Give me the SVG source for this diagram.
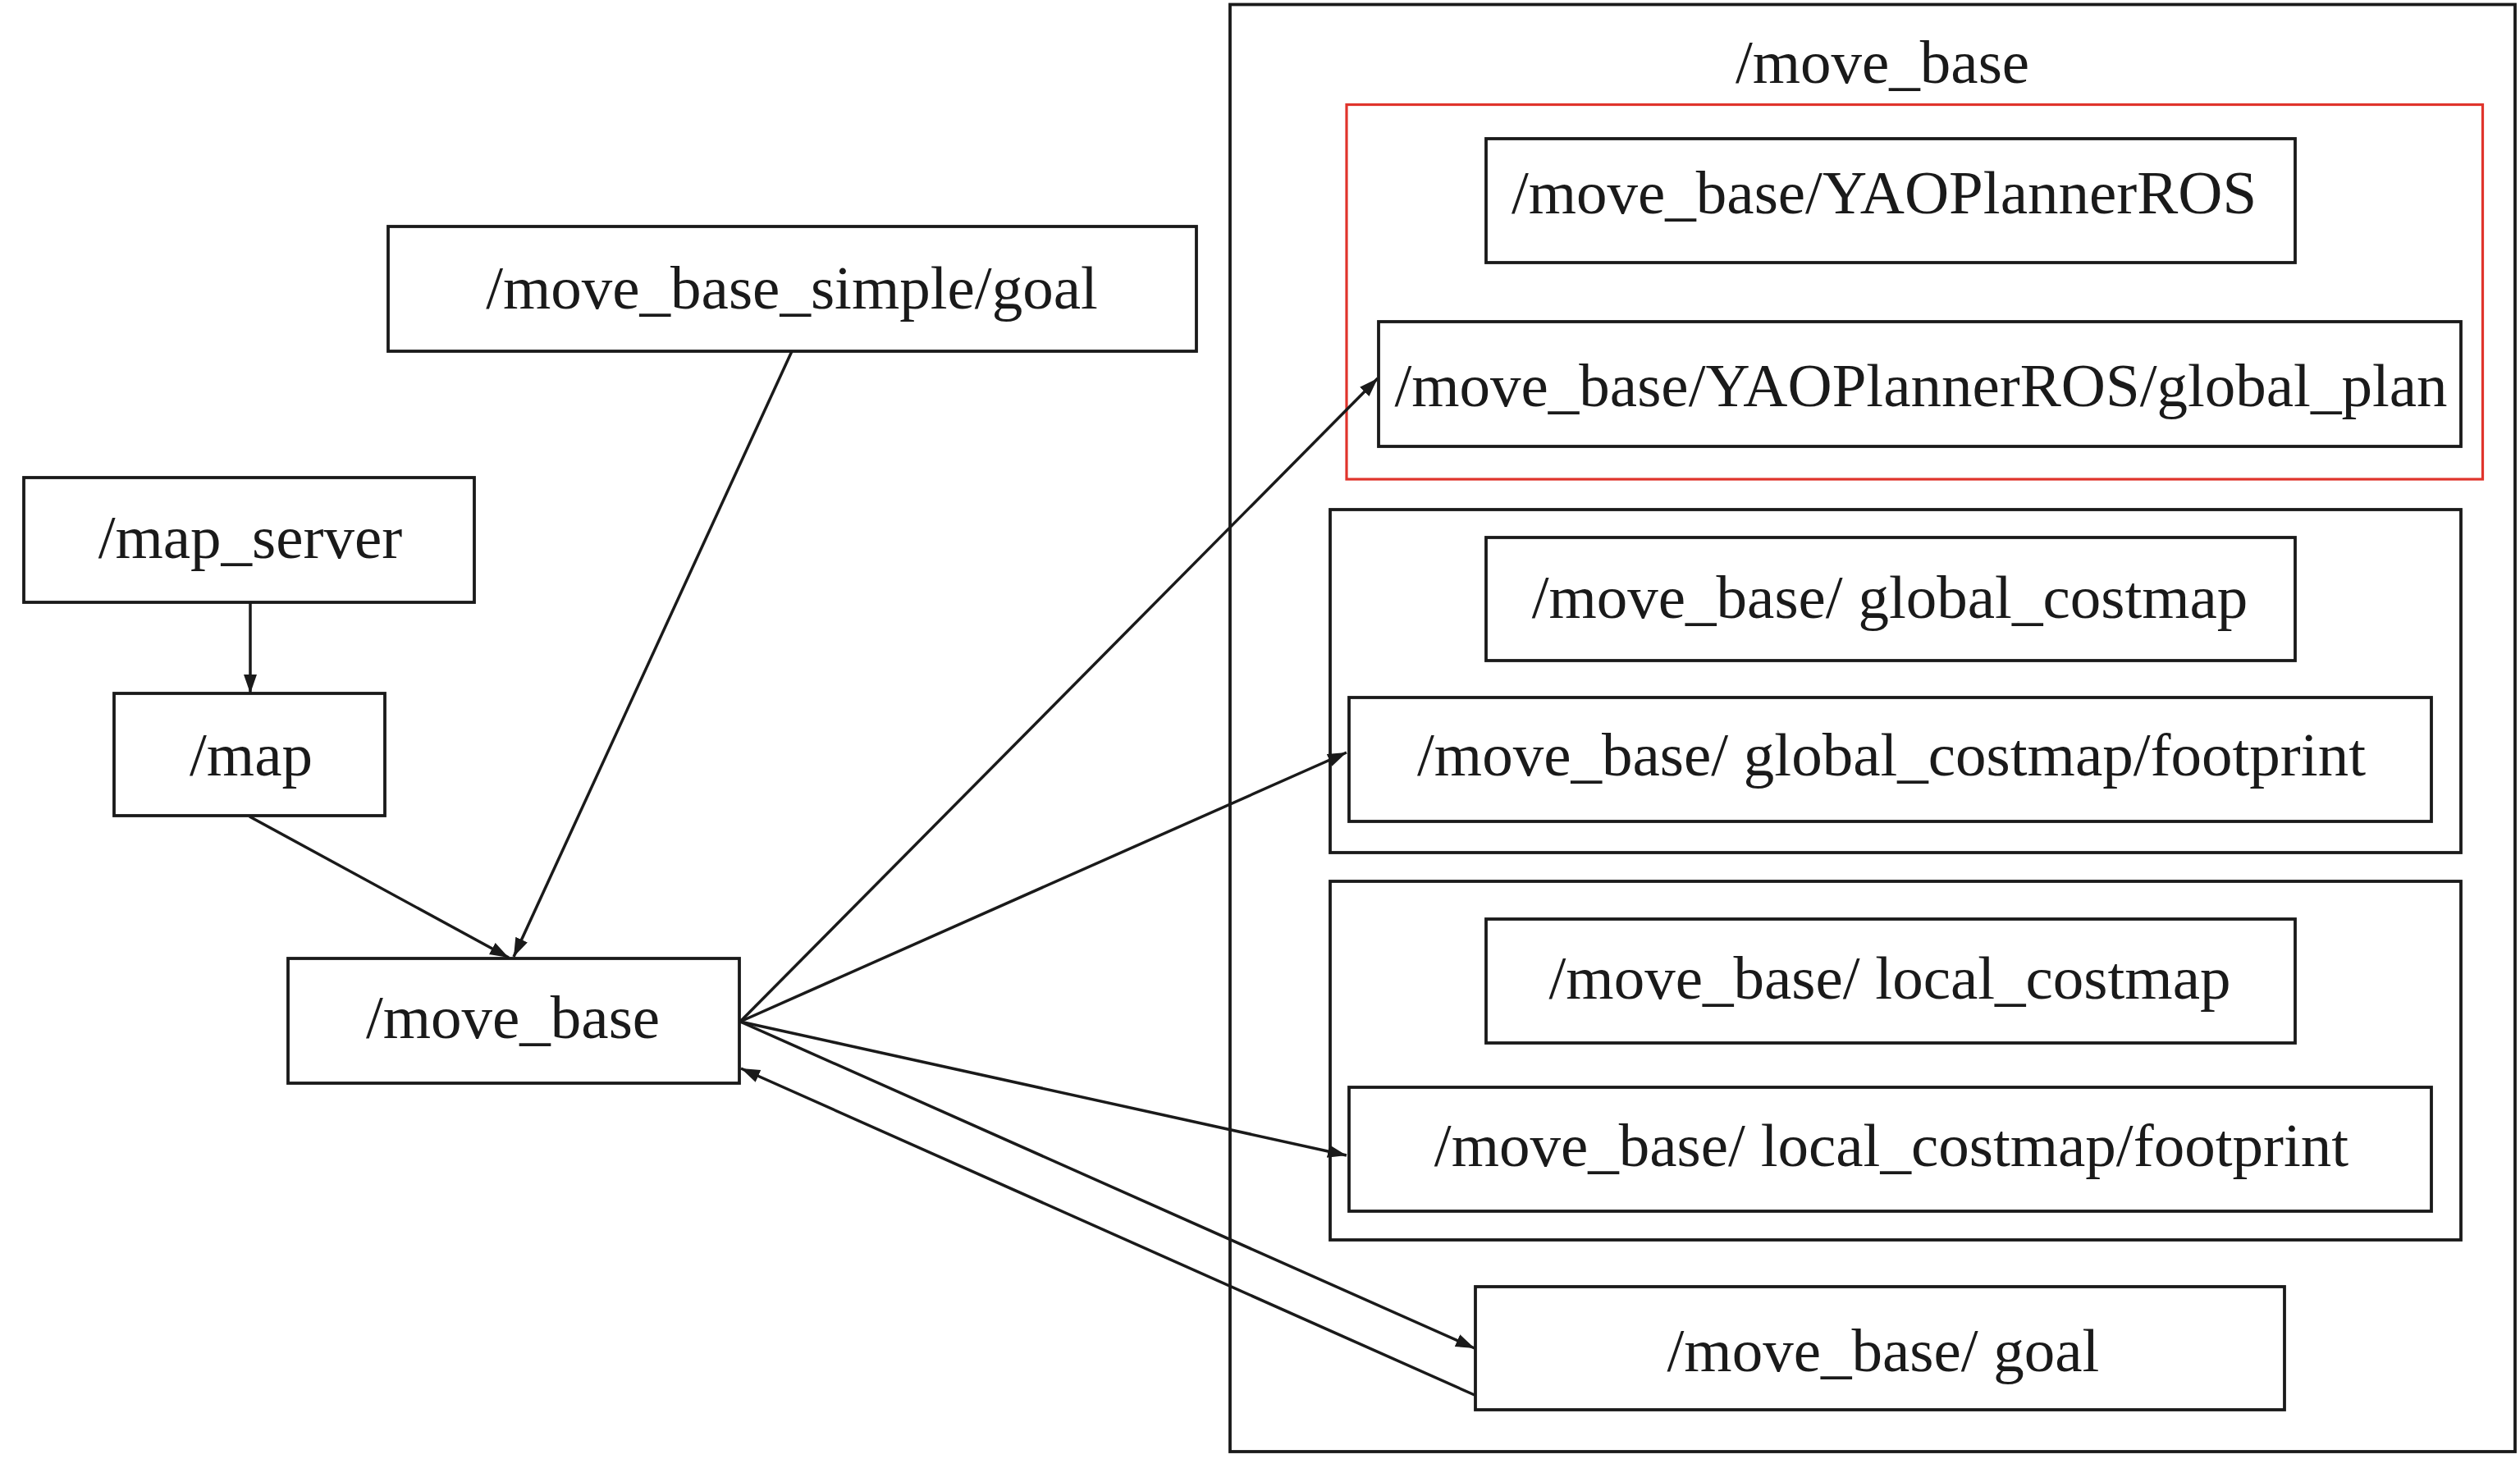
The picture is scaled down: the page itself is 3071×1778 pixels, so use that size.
<svg xmlns="http://www.w3.org/2000/svg" width="3071" height="1778" viewBox="0 0 3071 1778">
<style>
.box{fill:none;stroke:#1a1a1a;stroke-width:3.8}
.red{fill:none;stroke:#e0342c;stroke-width:3.2}
.t{font-family:"Liberation Serif","Times New Roman",serif;font-size:75px;fill:#1a1a1a;text-anchor:middle}
.c{fill:none;stroke:#1a1a1a;stroke-width:3.5}
</style>
<defs>
<marker id="ah" markerUnits="userSpaceOnUse" markerWidth="26" markerHeight="18" refX="23" refY="8" orient="auto">
<path d="M0,0 L23,8 L0,16 z" fill="#1a1a1a"/>
</marker>
</defs>
<rect width="3071" height="1778" fill="#fff"/>
<g id="cluster_move_base">
<rect class="box" x="1499" y="5.5" width="1566" height="1763.5"/>
<text class="t" x="2294" y="101">/move_base</text>
</g>
<g id="cluster_planner">
<rect class="red" x="1641" y="127.5" width="1384.5" height="456.5"/>
</g>
<g id="cluster_global">
<rect class="box" x="1621" y="621" width="1378" height="418"/>
</g>
<g id="cluster_local">
<rect class="box" x="1621" y="1074" width="1378" height="437"/>
</g>
<g id="n_simple_goal">
<rect class="box" x="473" y="276" width="985" height="152"/>
<text class="t" x="965" y="376">/move_base_simple/goal</text>
</g>
<g id="n_map_server">
<rect class="box" x="29" y="582" width="549" height="152"/>
<text class="t" x="305" y="680">/map_server</text>
</g>
<g id="n_map">
<rect class="box" x="139" y="845" width="330" height="149"/>
<text class="t" x="306" y="945">/map</text>
</g>
<g id="n_move_base">
<rect class="box" x="351" y="1168" width="550" height="152"/>
<text class="t" x="625" y="1265">/move_base</text>
</g>
<g id="n_yao">
<rect class="box" x="1811" y="169" width="986" height="151"/>
<text class="t" x="2296" y="260">/move_base/YAOPlannerROS</text>
</g>
<g id="n_global_plan">
<rect class="box" x="1680" y="392" width="1319" height="152"/>
<text class="t" x="2341" y="495">/move_base/YAOPlannerROS/global_plan</text>
</g>
<g id="n_global_costmap">
<rect class="box" x="1811" y="655" width="986" height="150"/>
<text class="t" x="2303" y="753">/move_base/ global_costmap</text>
</g>
<g id="n_global_fp">
<rect class="box" x="1644" y="850" width="1319" height="151"/>
<text class="t" x="2305" y="945">/move_base/ global_costmap/footprint</text>
</g>
<g id="n_local_costmap">
<rect class="box" x="1811" y="1120" width="986" height="151"/>
<text class="t" x="2303" y="1217">/move_base/ local_costmap</text>
</g>
<g id="n_local_fp">
<rect class="box" x="1644" y="1325" width="1319" height="151"/>
<text class="t" x="2305" y="1421">/move_base/ local_costmap/footprint</text>
</g>
<g id="n_goal">
<rect class="box" x="1798" y="1568" width="986" height="150"/>
<text class="t" x="2295" y="1671">/move_base/ goal</text>
</g>
<g id="connectors">
<line class="c" x1="305" y1="734" x2="305" y2="845" marker-end="url(#ah)"/>
<line class="c" x1="304" y1="995" x2="620" y2="1167" marker-end="url(#ah)"/>
<line class="c" x1="965" y1="428" x2="626" y2="1166" marker-end="url(#ah)"/>
<line class="c" x1="902" y1="1245" x2="1679" y2="461" marker-end="url(#ah)"/>
<line class="c" x1="902" y1="1245" x2="1641" y2="917" marker-end="url(#ah)"/>
<line class="c" x1="902" y1="1245" x2="1641" y2="1408" marker-end="url(#ah)"/>
<line class="c" x1="902" y1="1245" x2="1797" y2="1643" marker-end="url(#ah)"/>
<line class="c" x1="1797" y1="1700" x2="903" y2="1302" marker-end="url(#ah)"/>
</g>
</svg>
